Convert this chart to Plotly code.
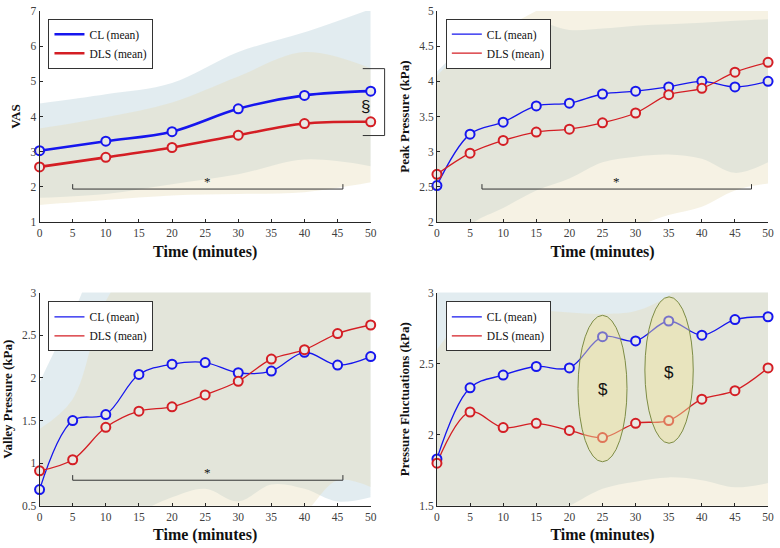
import plotly.graph_objects as go

# ---------------- data ----------------
time_vas = [0, 10, 20, 30, 40, 50]
time_kpa = [0, 5, 10, 15, 20, 25, 30, 35, 40, 45, 50]

vas_cl = [3.03, 3.30, 3.57, 4.22, 4.60, 4.72]
vas_dls = [2.57, 2.84, 3.12, 3.47, 3.80, 3.85]
vas_cl_up = [4.37, 4.63, 4.95, 5.83, 6.39, 7.05]
vas_cl_lo = [1.69, 1.80, 2.08, 2.36, 2.78, 2.59]
vas_dls_up = [3.66, 3.98, 4.40, 5.14, 5.83, 5.37]
vas_dls_lo = [1.49, 1.63, 1.76, 1.80, 1.85, 2.13]

peak_cl = [2.52, 3.25, 3.42, 3.65, 3.69, 3.82, 3.86, 3.92, 4.00, 3.92, 4.00]
peak_dls = [2.68, 2.98, 3.16, 3.28, 3.32, 3.41, 3.55, 3.81, 3.90, 4.13, 4.27]
peak_cl_up = [4.14, 4.55, 4.80, 4.85, 4.73, 4.75, 4.79, 4.81, 4.83, 4.86, 4.88]
peak_cl_lo = [1.20, 1.95, 2.20, 2.45, 2.62, 2.85, 2.93, 2.96, 2.90, 2.70, 2.85]
peak_dls_up = [4.08, 4.50, 4.75, 5.00, 5.25, 5.40, 5.45, 5.45, 5.45, 5.40, 5.40]
peak_dls_lo = [1.50, 1.60, 1.70, 1.80, 1.85, 1.90, 1.95, 2.10, 2.22, 2.45, 2.55]

valley_cl = [0.69, 1.50, 1.57, 2.04, 2.16, 2.18, 2.06, 2.08, 2.30, 2.15, 2.25]
valley_dls = [0.91, 1.04, 1.42, 1.61, 1.66, 1.80, 1.96, 2.22, 2.33, 2.52, 2.62]
valley_cl_up = [1.95, 2.75, 3.50, 3.60, 3.60, 3.60, 3.60, 3.60, 3.60, 3.60, 3.60]
valley_cl_lo = [0.00, 0.10, 0.20, 0.42, 0.60, 0.70, 0.55, 0.75, 0.70, 0.55, 0.60]
valley_dls_up = [1.40, 1.75, 2.90, 3.40, 3.50, 3.50, 3.50, 3.50, 3.50, 3.50, 3.50]
valley_dls_lo = [-0.20, -0.10, 0.00, 0.10, 0.20, 0.25, 0.30, 0.20, 0.42, 0.80, 0.72]

fluct_cl = [1.83, 2.33, 2.42, 2.48, 2.47, 2.69, 2.66, 2.80, 2.70, 2.81, 2.83]
fluct_dls = [1.80, 2.16, 2.05, 2.08, 2.03, 1.98, 2.08, 2.10, 2.25, 2.31, 2.47]
fluct_cl_up = [3.05, 3.30, 3.40, 3.40, 3.40, 3.40, 3.40, 3.40, 3.40, 3.40, 3.40]
fluct_cl_lo = [1.00, 1.20, 1.30, 1.40, 1.50, 1.62, 1.67, 1.70, 1.68, 1.63, 1.66]
fluct_dls_up = [2.60, 2.85, 2.90, 2.88, 2.86, 2.85, 2.87, 2.98, 3.20, 3.30, 3.30]
fluct_dls_lo = [1.20, 1.25, 1.25, 1.25, 1.25, 1.25, 1.25, 1.25, 1.25, 1.25, 1.30]

series_names = ["CL (mean)", "DLS (mean)"]
y_titles = ["VAS", "Peak Pressure (kPa)", "Valley Pressure (kPa)", "Pressure Fluctuations (kPa)"]
x_title = "Time (minutes)"

# ---------------- styling ----------------
W, H = 780, 548
FONT = "Liberation Serif"
BLUE = "rgb(22,22,238)"
RED = "rgb(212,30,36)"
CL_FILL = "rgba(158,192,205,0.3)"
DLS_FILL = "rgba(229,218,178,0.35)"
MARKER_FILL = "rgb(232,233,229)"
AX = "#262626"
TICK = "#404040"

# plot-area pixel boxes (left, right, top, bottom)
boxes = [(37, 372, 5, 221), (439, 774, 5, 221), (37, 372, 293, 511), (439, 774, 293, 511)]
yranges = [[1, 7], [2, 5], [0.5, 3], [1.5, 3]]
ydticks = [1, 0.5, 0.5, 0.5]
legend_pos = [(46, 13), (448, 13), (46, 302), (448, 302)]

panels = [
    dict(t=time_vas, cl=vas_cl, dls=vas_dls, clu=vas_cl_up, cll=vas_cl_lo, du=vas_dls_up, dl=vas_dls_lo, lw=2.6),
    dict(t=time_kpa, cl=peak_cl, dls=peak_dls, clu=peak_cl_up, cll=peak_cl_lo, du=peak_dls_up, dl=peak_dls_lo, lw=1.3),
    dict(t=time_kpa, cl=valley_cl, dls=valley_dls, clu=valley_cl_up, cll=valley_cl_lo, du=valley_dls_up, dl=valley_dls_lo, lw=1.3),
    dict(t=time_kpa, cl=fluct_cl, dls=fluct_dls, clu=fluct_cl_up, cll=fluct_cl_lo, du=fluct_dls_up, dl=fluct_dls_lo, lw=1.3),
]

fig = go.Figure()
layout = dict(width=W, height=H, margin=dict(l=0, r=0, t=0, b=0),
              paper_bgcolor="white", plot_bgcolor="white",
              font=dict(family=FONT, size=11, color=TICK), showlegend=True)

for i, p in enumerate(panels):
    n = "" if i == 0 else str(i + 1)
    xa, ya = "x" + n, "y" + n
    lg = "legend" + n
    # bands
    for lo, up, fc in [(p["cll"], p["clu"], CL_FILL), (p["dl"], p["du"], DLS_FILL)]:
        fig.add_trace(go.Scatter(x=p["t"], y=lo, mode="lines", line=dict(width=0, shape="spline"),
                                 xaxis=xa, yaxis=ya, showlegend=False, hoverinfo="skip"))
        fig.add_trace(go.Scatter(x=p["t"], y=up, mode="lines", line=dict(width=0, shape="spline"),
                                 fill="tonexty", fillcolor=fc, xaxis=xa, yaxis=ya,
                                 showlegend=False, hoverinfo="skip"))
    # mean lines
    for vals, col, name in [(p["cl"], BLUE, series_names[0]), (p["dls"], RED, series_names[1])]:
        fig.add_trace(go.Scatter(x=p["t"], y=vals, mode="lines", name=name,
                                 line=dict(color=col, width=p["lw"], shape="spline", smoothing=1.0),
                                 xaxis=xa, yaxis=ya, legend=lg))
    for vals, col in [(p["cl"], BLUE), (p["dls"], RED)]:
        fig.add_trace(go.Scatter(x=p["t"], y=vals, mode="markers", showlegend=False,
                                 marker=dict(symbol="circle", size=9, color=MARKER_FILL,
                                             line=dict(color=col, width=2)),
                                 cliponaxis=False, xaxis=xa, yaxis=ya))
    l, r, t, b = boxes[i]
    layout["xaxis" + n] = dict(domain=[l / W, r / W], anchor=ya, range=[0, 50],
                               tickvals=list(range(0, 51, 5)), ticks="inside", ticklen=3,
                               tickcolor=AX, showline=True, linecolor=AX, linewidth=1,
                               showgrid=False, zeroline=False, tickfont=dict(size=11.5, color=TICK),
                               title=dict(text="<b>" + x_title + "</b>", standoff=7,
                                          font=dict(size=16, color="#111111")))
    layout["yaxis" + n] = dict(domain=[1 - b / H, 1 - t / H], anchor=xa, range=yranges[i],
                               dtick=ydticks[i], ticks="inside", ticklen=3,
                               tickcolor=AX, showline=True, linecolor=AX, linewidth=1,
                               showgrid=False, zeroline=False, tickfont=dict(size=11.5, color=TICK),
                               title=dict(text="<b>" + y_titles[i] + "</b>", standoff=6,
                                          font=dict(size=13, color="#111111")))
    lx, ly = legend_pos[i]
    layout[lg] = dict(x=lx / W, y=1 - ly / H, xanchor="left", yanchor="top",
                      bgcolor="white", bordercolor="#333333", borderwidth=1,
                      font=dict(size=11.5, color="#111111", family=FONT),
                      tracegroupgap=0, itemwidth=30, traceorder="normal")

# ---------------- significance marks ----------------
shapes = []
annotations = []
brk = dict(color="#333333", width=1)
star_brackets = [("x", "y", 5, 45.8, 1.94, 2.08), ("x2", "y2", 6.8, 47.5, 2.47, 2.54),
                 ("x3", "y3", 5, 45.8, 0.80, 0.86)]
for xr, yr, x0, x1, yl, yt in star_brackets:
    shapes.append(dict(type="line", xref=xr, yref=yr, x0=x0, x1=x1, y0=yl, y1=yl, line=brk))
    shapes.append(dict(type="line", xref=xr, yref=yr, x0=x0, x1=x0, y0=yl, y1=yt, line=brk))
    shapes.append(dict(type="line", xref=xr, yref=yr, x0=x1, x1=x1, y0=yl, y1=yt, line=brk))
    annotations.append(dict(xref=xr, yref=yr, x=(x0 + x1) / 2, y=yl, yanchor="bottom",
                            text="*", showarrow=False, yshift=-2,
                            font=dict(size=13, color="#111111", family=FONT)))

# section-sign bracket right of panel 1 (x in domain fraction: x/50)
sec_x0, sec_x1, sec_ytop, sec_ybot = 48.8, 52.1, 5.36, 3.46
for yy in (sec_ytop, sec_ybot):
    shapes.append(dict(type="line", xref="x domain", yref="y", x0=sec_x0 / 50, x1=sec_x1 / 50,
                       y0=yy, y1=yy, line=brk))
shapes.append(dict(type="line", xref="x domain", yref="y", x0=sec_x1 / 50, x1=sec_x1 / 50,
                   y0=sec_ybot, y1=sec_ytop, line=brk))
annotations.append(dict(xref="x", yref="y", x=49.2, y=4.28, text="§", showarrow=False,
                        font=dict(size=17, color="#111111", family="Liberation Sans")))

# ellipses in panel 4
ellipses = [(21.3, 28.7, 1.81, 2.84, 25, 2.32), (31.4, 38.7, 1.94, 2.97, 35, 2.44)]
for x0, x1, y0, y1, tx, ty in ellipses:
    shapes.append(dict(type="circle", xref="x4", yref="y4", x0=x0, x1=x1, y0=y0, y1=y1,
                       fillcolor="rgba(238,226,155,0.45)", line=dict(color="#7d8c45", width=1),
                       layer="above"))
    annotations.append(dict(xref="x4", yref="y4", x=tx, y=ty, text="$", showarrow=False,
                            font=dict(size=17, color="#111111", family="Liberation Sans")))

layout["shapes"] = shapes
layout["annotations"] = annotations
fig.update_layout(**layout)
fig.write_html("out.html")
